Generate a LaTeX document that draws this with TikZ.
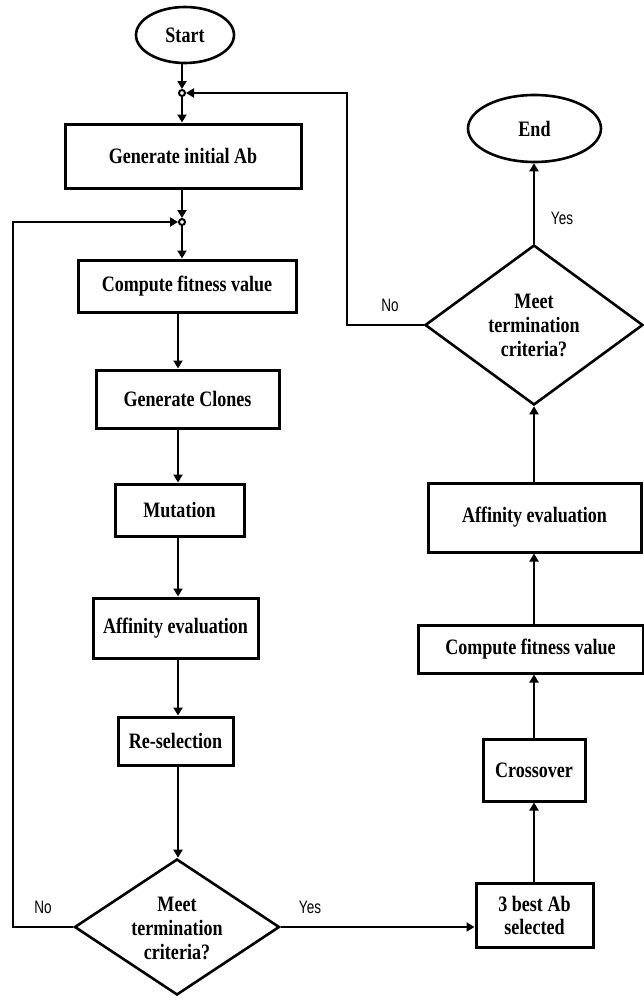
\documentclass[tikz,border=0pt]{standalone}
\usepackage{fontspec}
\setmainfont{Liberation Serif}
\newfontfamily\boxfont[FakeStretch=0.82]{Liberation Serif}
\newfontfamily\lblfont[FakeStretch=0.75]{Liberation Sans}
\usetikzlibrary{shapes.geometric,arrows.meta}
\tikzset{
  box/.style={draw, rectangle, line width=3pt, inner sep=0pt, fill=white,
    font=\boxfont\bfseries\fontsize{22}{23}\selectfont, align=center},
  term/.style={draw, ellipse, line width=2.6pt, inner sep=0pt,
    font=\boxfont\bfseries\fontsize{22}{23}\selectfont},
  dia/.style={draw, diamond, line width=2.6pt, inner sep=0pt},
  diatext/.style={inner sep=0pt, align=center,
    font=\boxfont\bfseries\fontsize{22}{24}\selectfont},
  junc/.style={draw, circle, line width=2pt, inner sep=0pt, minimum size=6pt, fill=white},
  arr/.style={line width=2.6pt, -{Triangle[length=8pt,width=9pt]}},
  conn/.style={line width=2.6pt},
  lbl/.style={inner sep=0pt, font=\lblfont\fontsize{18}{20}\selectfont}
}
\begin{document}
\begin{tikzpicture}[x=1pt,y=-1pt]
\useasboundingbox (0,0) rectangle (644,996);
% column guides
\coordinate (colA) at (182,0);
\coordinate (colB) at (178,0);
\coordinate (colR) at (534,0);
\coordinate (rc) at (347,93);
\coordinate (lc) at (13,222);

% left column
\node[term, minimum width=98pt, minimum height=56pt] (start) at (185,35) {Start};
\node[junc] (j1) at (182,93) {};
\node[box, minimum width=236pt, minimum height=64pt] (gen) at (183,156) {Generate initial Ab};
\node[junc] (j2) at (182,222) {};
\node[box, minimum width=218pt, minimum height=52pt] (comp1) at (187,286) {Compute fitness value};
\node[box, minimum width=183pt, minimum height=58pt] (clones) at (187.5,399) {Generate Clones};
\node[box, minimum width=129pt, minimum height=52pt] (mut) at (179.5,510) {Mutation};
\node[box, minimum width=165pt, minimum height=60pt] (aff1) at (175.5,628) {Affinity evaluation};
\node[box, minimum width=115pt, minimum height=48pt] (resel) at (175.5,741) {Re-selection};
\node[dia, minimum width=205pt, minimum height=136pt] (d1) at (177,927) {};
\node[diatext] (d1t) at (177,928) {Meet\\termination\\criteria?};

% right column
\node[term, minimum width=133pt, minimum height=67pt] (end) at (534.5,128.5) {End};
\node[dia, minimum width=218pt, minimum height=160pt] (d2) at (534,325) {};
\node[diatext] (d2t) at (534,325) {Meet\\termination\\criteria?};
\node[box, minimum width=213pt, minimum height=69pt] (aff2) at (534.5,517.5) {Affinity evaluation};
\node[box, minimum width=225pt, minimum height=48pt] (comp2) at (530.5,649) {Compute fitness value};
\node[box, minimum width=102pt, minimum height=62pt] (cross) at (534,770) {Crossover};
\node[box, minimum width=117pt, minimum height=64pt] (best) at (534.5,915) {3 best Ab\\selected};

% left column connectors
\draw[arr] (start.south -| colA) -- (j1.north);
\draw[arr] (j1.south) -- (gen.north -| colA);
\draw[arr] (gen.south -| colA) -- (j2.north);
\draw[arr] (j2.south) -- (comp1.north -| colA);
\draw[arr] (comp1.south -| colB) -- (clones.north -| colB);
\draw[arr] (clones.south -| colB) -- (mut.north -| colB);
\draw[arr] (mut.south -| colB) -- (aff1.north -| colB);
\draw[arr] (aff1.south -| colB) -- (resel.north -| colB);
\draw[arr] (resel.south -| colB) -- (d1.north -| colB);

% decision 1
\draw[arr] (d1.west) -| (lc) -- (j2.west);
\draw[arr] (d1.east) -- (d1.east -| best.west);

% right column connectors (upwards)
\draw[arr] (best.north -| colR) -- (cross.south -| colR);
\draw[arr] (cross.north -| colR) -- (comp2.south -| colR);
\draw[arr] (comp2.north -| colR) -- (aff2.south -| colR);
\draw[arr] (aff2.north -| colR) -- (d2.south -| colR);
\draw[arr] (d2.north -| colR) -- (end.south -| colR);
\draw[arr] (d2.west) -| (rc) -- (j1.east);

% labels
\node[lbl] (no1) at (43,907) {No};
\node[lbl] (yes1) at (310,907) {Yes};
\node[lbl] (no2) at (390,305) {No};
\node[lbl] (yes2) at (562,218) {Yes};
\end{tikzpicture}
\end{document}
